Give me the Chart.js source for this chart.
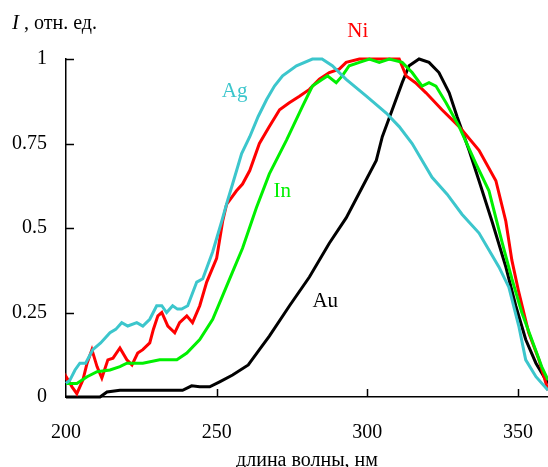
<!DOCTYPE html>
<html>
<head>
<meta charset="utf-8">
<script src="https://cdn.jsdelivr.net/npm/chart.js@4/dist/chart.umd.min.js"></script>
<style>
html,body{margin:0;padding:0;background:#fff;}
#wrap{width:548px;height:467px;position:relative;}
</style>
</head>
<body>
<div id="wrap"><canvas id="c" width="548" height="467"></canvas></div>
<script>
const xTicks = [200, 250, 300, 350];
const yTicks = [0, 0.25, 0.5, 0.75, 1];

const agX = [200, 201.3, 203, 204.6, 206.5, 208.9, 211.5, 214.6, 216.5, 218.5, 220.5, 223.5, 225.5, 227.8, 230.1, 231.8, 233.4, 235.4, 237, 238.4, 240.4, 243.4, 245.4, 248.7, 251.7, 253.6, 255.3, 258.3, 261, 263.8, 266.6, 269.2, 271.9, 276.5, 281.8, 285, 288.4, 293, 299.7, 306.3, 310.6, 314.9, 321.5, 326.5, 331.5, 337.1, 343.7, 347, 350.3, 352.6, 356, 360];
const agY = [0.04, 0.05, 0.08, 0.10, 0.10, 0.14, 0.16, 0.19, 0.20, 0.22, 0.21, 0.22, 0.21, 0.23, 0.27, 0.27, 0.25, 0.27, 0.26, 0.26, 0.27, 0.34, 0.35, 0.43, 0.52, 0.58, 0.63, 0.72, 0.77, 0.83, 0.88, 0.92, 0.95, 0.98, 1.0, 1.0, 0.98, 0.94, 0.89, 0.84, 0.80, 0.75, 0.65, 0.60, 0.54, 0.485, 0.385, 0.325, 0.21, 0.11, 0.06, 0.02];

const niX = [200, 200.3, 202, 203.6, 205.6, 207, 208.6, 210.3, 211.9, 213.9, 215.6, 217.9, 220.2, 221.9, 223.8, 225.5, 227.8, 229, 230.5, 231.8, 233.8, 236.1, 237.7, 240.1, 242, 244.4, 246.7, 250, 252, 253.3, 256.6, 258.6, 261, 264.2, 267.5, 270.9, 274, 277.5, 280.8, 284.1, 287.4, 290.7, 293, 297.4, 310.6, 312.9, 316, 319.5, 324.8, 330.5, 337.1, 342.7, 346, 348, 350.3, 353.6, 357, 360];
const niY = [0.05, 0.056, 0.03, 0.01, 0.05, 0.10, 0.14, 0.09, 0.056, 0.11, 0.115, 0.145, 0.11, 0.095, 0.13, 0.14, 0.16, 0.20, 0.24, 0.25, 0.21, 0.19, 0.22, 0.24, 0.22, 0.27, 0.34, 0.41, 0.52, 0.57, 0.61, 0.63, 0.67, 0.75, 0.80, 0.85, 0.87, 0.89, 0.91, 0.94, 0.96, 0.97, 0.99, 1.0, 1.0, 0.95, 0.93, 0.90, 0.85, 0.80, 0.73, 0.64, 0.52, 0.405, 0.31, 0.19, 0.11, 0.02];

const inX = [200, 203.6, 207, 210.3, 214.6, 217.9, 220.2, 225.5, 231.1, 236.8, 240.1, 244.4, 248.7, 252, 255.3, 258.6, 263.2, 267.5, 273.2, 278.5, 281.8, 285.1, 286.8, 289.7, 291.7, 294, 297.4, 300.7, 304, 307.3, 311.6, 314.9, 318.2, 320.5, 322.8, 326.2, 330.5, 336.1, 340.4, 344.7, 348, 351.3, 354.6, 357.9, 360];
const inY = [0.04, 0.04, 0.06, 0.075, 0.08, 0.09, 0.10, 0.10, 0.11, 0.11, 0.13, 0.17, 0.23, 0.30, 0.37, 0.44, 0.56, 0.66, 0.76, 0.86, 0.92, 0.94, 0.95, 0.93, 0.95, 0.98, 0.99, 1.0, 0.99, 1.0, 0.99, 0.96, 0.92, 0.93, 0.92, 0.87, 0.80, 0.69, 0.61, 0.46, 0.35, 0.25, 0.17, 0.09, 0.05];

const auX = [200, 211.3, 213.6, 217.9, 238.7, 241.7, 244.4, 247.7, 251, 255.3, 260.5, 264.2, 267.5, 274.2, 280.8, 287.4, 293, 298.3, 303, 305, 308.3, 311.6, 313.9, 317.2, 320.5, 323.8, 327.2, 329.8, 333.8, 337.1, 341.4, 346, 349.3, 352.6, 356, 360];
const auY = [0, 0, 0.015, 0.02, 0.02, 0.033, 0.03, 0.03, 0.045, 0.065, 0.095, 0.14, 0.18, 0.27, 0.355, 0.455, 0.53, 0.62, 0.70, 0.77, 0.85, 0.93, 0.98, 1.0, 0.99, 0.96, 0.90, 0.83, 0.73, 0.64, 0.52, 0.385, 0.27, 0.17, 0.10, 0.04];

const seriesNames = ['Ag', 'In', 'Ni', 'Au'];
const seriesColors = ['#3CC6CC', '#00F000', '#FF0000', '#000000'];
// label anchor (left, baseline) in data units
const labelX = [251.7, 268.9, 293.4, 281.8];
const labelY = [0.888, 0.592, 1.065, 0.266];

const xs = [agX, inX, niX, auX];
const ys = [agY, inY, niY, auY];

const SERIF = '"Liberation Serif", "Times New Roman", serif';

const datasets = seriesNames.map((n, i) => ({
  label: n,
  data: xs[i].map((x, j) => ({x: x, y: ys[i][j]})),
  borderColor: seriesColors[i],
  backgroundColor: seriesColors[i],
  borderWidth: 3,
  pointRadius: 0,
  showLine: true,
  tension: 0,
  clip: false
}));

const decor = {
  id: 'decor',
  afterDraw(chart) {
    const ctx = chart.ctx;
    const xs_ = chart.scales.x, ys_ = chart.scales.y;
    const a = chart.chartArea;
    ctx.save();
    ctx.strokeStyle = '#000';
    ctx.lineWidth = 1.5;
    // inward tick marks
    yTicks.forEach(v => {
      if (v === 0) return;
      const py = Math.round(ys_.getPixelForValue(v)) + 0.5;
      ctx.beginPath(); ctx.moveTo(a.left, py); ctx.lineTo(a.left + 8, py); ctx.stroke();
    });
    xTicks.forEach(v => {
      if (v === 200) return;
      const px = Math.round(xs_.getPixelForValue(v)) + 0.5;
      ctx.beginPath(); ctx.moveTo(px, a.bottom); ctx.lineTo(px, a.bottom - 8); ctx.stroke();
    });
    // series labels
    ctx.font = '21px ' + SERIF;
    ctx.textAlign = 'left';
    ctx.textBaseline = 'alphabetic';
    seriesNames.forEach((n, i) => {
      ctx.fillStyle = seriesColors[i];
      ctx.fillText(n, xs_.getPixelForValue(labelX[i]), ys_.getPixelForValue(labelY[i]));
    });
    // y-axis title
    ctx.fillStyle = '#000';
    ctx.font = 'italic 21px ' + SERIF;
    ctx.fillText('I', 12, 29);
    const w = ctx.measureText('I').width;
    ctx.font = '20px ' + SERIF;
    ctx.fillText(' , отн. ед.', 12 + w, 29);
    // x-axis title
    ctx.textAlign = 'center';
    ctx.fillText('длина волны, нм', (a.left + a.right) / 2, 466);
    ctx.restore();
  }
};

new Chart(document.getElementById('c'), {
  type: 'scatter',
  data: { datasets: datasets },
  options: {
    responsive: false,
    animation: false,
    layout: { padding: { top: 59, right: 0, left: 0, bottom: 0 } },
    plugins: { legend: { display: false }, tooltip: { enabled: false }, title: { display: false } },
    scales: {
      x: {
        type: 'linear', min: 200, max: 360,
        afterFit: s => { s.height = 70; s.paddingRight = 0; s.paddingLeft = 0; },
        afterBuildTicks: s => { s.ticks = xTicks.map(v => ({value: v})); },
        grid: { display: false, drawTicks: false },
        border: { display: true, color: '#000', width: 1.5 },
        ticks: { color: '#000', font: { family: SERIF, size: 20 }, padding: 24, maxRotation: 0 }
      },
      y: {
        type: 'linear', min: 0, max: 1,
        afterFit: s => { s.width = 66; s.paddingTop = 0; s.paddingBottom = 0; },
        afterBuildTicks: s => { s.ticks = yTicks.map(v => ({value: v})); },
        grid: { display: false, drawTicks: false },
        border: { display: true, color: '#000', width: 1.5 },
        ticks: { color: '#000', font: { family: SERIF, size: 20 }, padding: 19,
          callback: v => String(v) }
      }
    }
  },
  plugins: [decor]
});
</script>
</body>
</html>
